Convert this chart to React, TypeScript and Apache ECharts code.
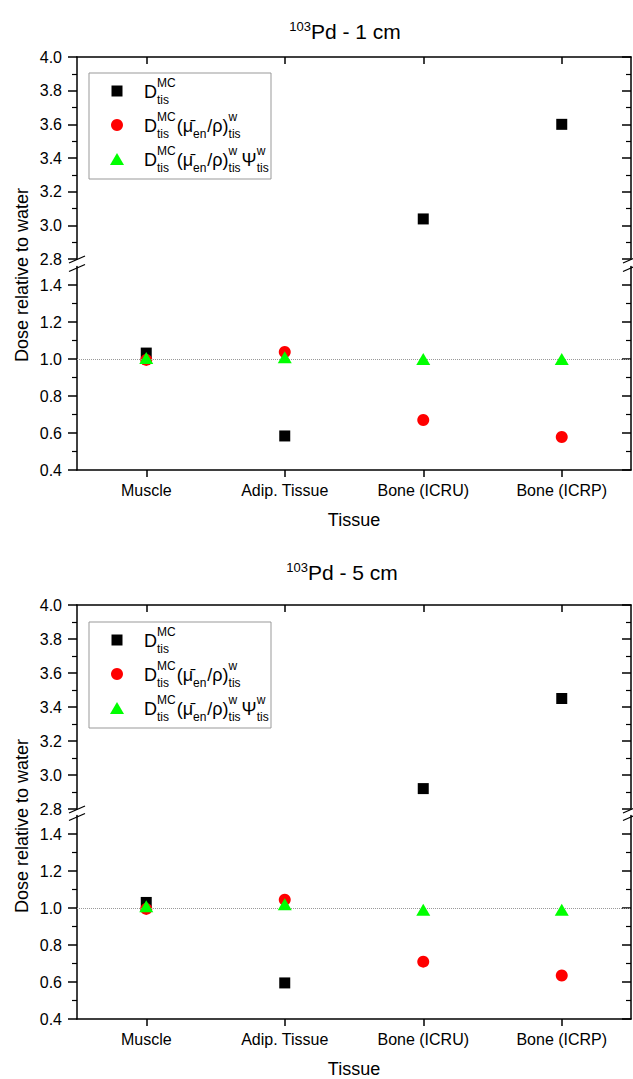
import React, { useEffect, useRef } from "react";
import * as echarts from "echarts";

// ---------------- data ----------------
const categories = ["Muscle", "Adip. Tissue", "Bone (ICRU)", "Bone (ICRP)"];

// 103Pd - 1 cm
const dMC_1cm = [1.032, 0.584, 3.038, 3.6];
const dMuen_1cm = [0.995, 1.038, 0.67, 0.578];
const dMuenPsi_1cm = [1.005, 1.01, 1.0, 1.0];

// 103Pd - 5 cm
const dMC_5cm = [1.03, 0.595, 2.92, 3.45];
const dMuen_5cm = [0.995, 1.045, 0.71, 0.635];
const dMuenPsi_5cm = [1.01, 1.02, 0.99, 0.99];

const upperTickLabels = [2.8, 3.0, 3.2, 3.4, 3.6, 3.8, 4.0];
const lowerTickLabels = [0.4, 0.6, 0.8, 1.0, 1.2, 1.4];
const referenceLine = 1.0;

const isotopeMass = "103";
const panelTitles = ["Pd - 1 cm", "Pd - 5 cm"];
const xAxisTitle = "Tissue";
const yAxisTitle = "Dose relative to water";

const seriesNames = [
  "D_tis^MC",
  "D_tis^MC (μen/ρ)_tis^w",
  "D_tis^MC (μen/ρ)_tis^w Ψ_tis^w",
];

type Piece = { main: string } | { sup: string; sub: string };
const legendRows: Piece[][] = [
  [{ main: "D" }, { sup: "MC", sub: "tis" }],
  [
    { main: "D" },
    { sup: "MC", sub: "tis" },
    { main: "(\u03BC\u0304" },
    { sup: "", sub: "en" },
    { main: "/\u03C1)" },
    { sup: "w", sub: "tis" },
  ],
  [
    { main: "D" },
    { sup: "MC", sub: "tis" },
    { main: "(\u03BC\u0304" },
    { sup: "", sub: "en" },
    { main: "/\u03C1)" },
    { sup: "w", sub: "tis" },
    { main: "\u03A8" },
    { sup: "w", sub: "tis" },
  ],
];

const panels = [
  { title: panelTitles[0], values: [dMC_1cm, dMuen_1cm, dMuenPsi_1cm] },
  { title: panelTitles[1], values: [dMC_5cm, dMuen_5cm, dMuenPsi_5cm] },
];

// ---------------- styling / layout ----------------
const FONT = 'Arial, "Liberation Sans", Helvetica, sans-serif';
const W = 633;
const H = 1079;
const PLOT_LEFT = 77;
const PLOT_RIGHT = 631;

const GEOM = [
  { titleX: 345, titleY: 20, upTop: 57, upBot: 259, lowTop: 266.5, lowBot: 470, yNameY: 275, legTop: 73 },
  { titleX: 342, titleY: 561, upTop: 605, upBot: 809, lowTop: 815.5, lowBot: 1019, yNameY: 826, legTop: 622 },
];

const MARKERS = [
  { symbol: "rect", size: 11, color: "#000000" },
  { symbol: "circle", size: 12, color: "#ff0000" },
  { symbol: "triangle", size: [14, 12], color: "#00ff00" },
];

function txt(x: number, y: number, text: string, size: number, extra: any = {}) {
  return {
    type: "text",
    x,
    y,
    z: 20,
    silent: true,
    style: {
      text,
      fontSize: size,
      fontFamily: FONT,
      fontWeight: "normal",
      fill: "#000",
      align: "left",
      verticalAlign: "middle",
      textAlign: "left",
      textVerticalAlign: "middle",
      ...extra,
    },
  };
}

export default function App() {
  const ref = useRef<HTMLDivElement>(null);

  useEffect(() => {
    document.body.style.margin = "0";
    if (!ref.current) return;
    const chart = echarts.init(ref.current, null, { renderer: "svg", width: W, height: H });

    const canvas = document.createElement("canvas");
    const ctx = canvas.getContext("2d") as CanvasRenderingContext2D;
    const measure = (t: string, size: number) => {
      ctx.font = `${size}px ${FONT}`;
      return ctx.measureText(t).width;
    };

    const grid: any[] = [];
    const xAxis: any[] = [];
    const yAxis: any[] = [];
    const series: any[] = [];
    const title: any[] = [];
    const graphic: any[] = [];

    GEOM.forEach((g, p) => {
      title.push({
        text: `{sup|${isotopeMass}}{main|${panels[p].title}}`,
        left: g.titleX,
        top: g.titleY,
        textAlign: "center",
        padding: 0,
        textStyle: {
          fontWeight: "normal",
          rich: {
            sup: { fontSize: 13, fontFamily: FONT, fontWeight: "normal", color: "#000", verticalAlign: "top", lineHeight: 22 },
            main: { fontSize: 21, fontFamily: FONT, fontWeight: "normal", color: "#000", lineHeight: 22 },
          },
        },
      });

      const segs = [
        { top: g.upTop, bottom: g.upBot, min: 2.8, max: 4.0, ticks: upperTickLabels, upper: true },
        { top: g.lowTop, bottom: g.lowBot, min: 0.4, max: 1.5, ticks: lowerTickLabels, upper: false },
      ];

      segs.forEach((s) => {
        const gi = grid.length;
        grid.push({
          left: PLOT_LEFT,
          right: W - PLOT_RIGHT,
          top: s.top,
          height: s.bottom - s.top,
          containLabel: false,
        });
        xAxis.push({
          type: "category",
          gridIndex: gi,
          data: categories,
          boundaryGap: true,
          position: s.upper ? "top" : "bottom",
          axisLine: { show: true, onZero: false, lineStyle: { color: "#000", width: 1.5 } },
          axisTick: {
            show: true,
            inside: s.upper,
            length: 7,
            alignWithLabel: true,
            interval: 0,
            lineStyle: { color: "#000", width: 1.5 },
          },
          axisLabel: {
            show: !s.upper,
            interval: 0,
            fontSize: 16,
            fontFamily: FONT,
            fontWeight: "normal",
            color: "#000",
            margin: 12,
          },
          splitLine: { show: false },
          name: s.upper ? "" : xAxisTitle,
          nameLocation: "middle",
          nameGap: 41,
          nameTextStyle: { fontSize: 18, fontFamily: FONT, fontWeight: "normal", color: "#000" },
        });

        const yBase = {
          type: "value",
          gridIndex: gi,
          min: s.min,
          max: s.max,
          interval: 0.2,
          splitLine: { show: false },
          minorSplitLine: { show: false },
          minorTick: { show: true, splitNumber: 2, length: 5, lineStyle: { color: "#000", width: 1.2 } },
          axisLine: { show: true, onZero: false, lineStyle: { color: "#000", width: 1.5 } },
        };
        const yi = yAxis.length;
        yAxis.push({
          ...yBase,
          position: "left",
          axisTick: { show: true, inside: false, length: 9, customValues: s.ticks, lineStyle: { color: "#000", width: 1.5 } },
          axisLabel: {
            customValues: s.ticks,
            formatter: (v: number) => Number(v).toFixed(1),
            fontSize: 16,
            fontFamily: FONT,
            fontWeight: "normal",
            color: "#000",
            margin: 15,
          },
        });
        yAxis.push({
          ...yBase,
          position: "right",
          axisTick: { show: true, inside: true, length: 9, customValues: s.ticks, lineStyle: { color: "#000", width: 1.5 } },
          axisLabel: { show: false },
        });

        MARKERS.forEach((m, k) => {
          const vals = panels[p].values[k];
          series.push({
            type: "scatter",
            name: seriesNames[k],
            xAxisIndex: gi,
            yAxisIndex: yi,
            symbol: m.symbol,
            symbolSize: m.size,
            itemStyle: { color: m.color, opacity: 1 },
            data: vals.map((v) => (v >= s.min && v <= s.max ? v : "-")),
            z: 3 + k,
            silent: true,
            clip: true,
            markLine:
              !s.upper && k === 0
                ? {
                    silent: true,
                    symbol: ["none", "none"],
                    label: { show: false },
                    lineStyle: { type: "dotted", color: "#999", width: 1 },
                    data: [{ yAxis: referenceLine }],
                  }
                : undefined,
          });
        });
      });

      // y-axis title
      graphic.push(
        txt(22, g.yNameY, yAxisTitle, 18, { align: "center", textAlign: "center" }),
      );
      graphic[graphic.length - 1].rotation = Math.PI / 2;

      // axis break marks
      [PLOT_LEFT, PLOT_RIGHT].forEach((x) => {
        graphic.push({
          type: "line",
          z: 20,
          silent: true,
          shape: { x1: x - 8, y1: g.upBot + 4, x2: x + 8, y2: g.upBot - 3 },
          style: { stroke: "#000", lineWidth: 1.3 },
        });
        graphic.push({
          type: "line",
          z: 20,
          silent: true,
          shape: { x1: x - 8, y1: g.lowTop + 5, x2: x + 8, y2: g.lowTop - 2 },
          style: { stroke: "#000", lineWidth: 1.3 },
        });
      });

      // legend box
      const lx = 89;
      const ly = g.legTop;
      graphic.push({
        type: "rect",
        z: 15,
        silent: true,
        shape: { x: lx, y: ly, width: 182, height: 106 },
        style: { fill: "#fff", stroke: "#999", lineWidth: 1 },
      });
      legendRows.forEach((row, r) => {
        const cy = ly + 18 + r * 34;
        const mx = lx + 28;
        if (r === 0) {
          graphic.push({ type: "rect", z: 20, silent: true, shape: { x: mx - 5.5, y: cy - 5.5, width: 11, height: 11 }, style: { fill: MARKERS[0].color } });
        } else if (r === 1) {
          graphic.push({ type: "circle", z: 20, silent: true, shape: { cx: mx, cy, r: 6 }, style: { fill: MARKERS[1].color } });
        } else {
          graphic.push({
            type: "polygon",
            z: 20,
            silent: true,
            shape: { points: [[mx - 7, cy + 6], [mx + 7, cy + 6], [mx, cy - 6]] },
            style: { fill: MARKERS[2].color },
          });
        }
        let x = lx + 55;
        row.forEach((pc: any) => {
          if ("main" in pc) {
            graphic.push(txt(x, cy + 1, pc.main, 18));
            x += measure(pc.main, 18);
          } else {
            if (pc.sup) graphic.push(txt(x, cy - 8, pc.sup, 12));
            graphic.push(txt(x, cy + 9, pc.sub, 12));
            x += Math.max(measure(pc.sup, 12), measure(pc.sub, 12)) + 1;
          }
        });
      });
    });

    chart.setOption({
      animation: false,
      backgroundColor: "#fff",
      textStyle: { fontFamily: FONT },
      title,
      grid,
      xAxis,
      yAxis,
      series,
      graphic,
    });

    return () => chart.dispose();
  }, []);

  return <div ref={ref} style={{ width: W, height: H }} />;
}
